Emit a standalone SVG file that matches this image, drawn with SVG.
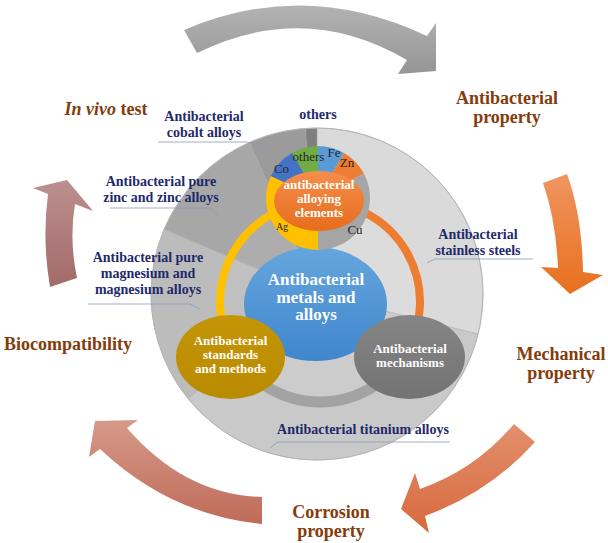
<svg xmlns="http://www.w3.org/2000/svg" width="608" height="543" viewBox="0 0 608 543">
<defs>
<linearGradient id="gGray" x1="0" y1="0" x2="0" y2="1"><stop offset="0" stop-color="#b3b3b3"/><stop offset="1" stop-color="#959595"/></linearGradient>
<linearGradient id="gOr1" x1="0" y1="0" x2="0" y2="1"><stop offset="0" stop-color="#f09560"/><stop offset="1" stop-color="#e8701e"/></linearGradient>
<linearGradient id="gOr2" x1="0" y1="0" x2="0" y2="1"><stop offset="0" stop-color="#e2906c"/><stop offset="1" stop-color="#d8693d"/></linearGradient>
<linearGradient id="gSal" x1="0" y1="0" x2="0" y2="1"><stop offset="0" stop-color="#d69a8a"/><stop offset="1" stop-color="#bf6b58"/></linearGradient>
<linearGradient id="gRose" x1="0" y1="0" x2="0" y2="1"><stop offset="0" stop-color="#bc9090"/><stop offset="1" stop-color="#a36a68"/></linearGradient>
<linearGradient id="gBlue" x1="0" y1="0" x2="0" y2="1"><stop offset="0" stop-color="#66a6de"/><stop offset="1" stop-color="#3f86cc"/></linearGradient>
<linearGradient id="gOrange" x1="0" y1="0" x2="0" y2="1"><stop offset="0" stop-color="#f58e4c"/><stop offset="1" stop-color="#e66d1c"/></linearGradient>
<linearGradient id="gGold" x1="0" y1="0" x2="0" y2="1"><stop offset="0" stop-color="#c59508"/><stop offset="1" stop-color="#b98b00"/></linearGradient>
<linearGradient id="gMech" x1="0" y1="0" x2="0" y2="1"><stop offset="0" stop-color="#858585"/><stop offset="1" stop-color="#737373"/></linearGradient>
<style>
.cyc{font-family:"Liberation Serif",serif;font-weight:bold;font-size:18px;fill:#843c0c;text-anchor:middle}
.lab{font-family:"Liberation Serif",serif;font-weight:bold;font-size:14px;fill:#1f2a6b;text-anchor:middle}
.wt{font-family:"Liberation Serif",serif;font-weight:bold;font-size:13px;fill:#ffffff;text-anchor:middle}
.big{font-size:17px}
.el{font-family:"Liberation Serif",serif;font-size:13px;fill:#262626;text-anchor:middle}
.sm{font-size:10px}
.lead{fill:none;stroke:#8a9bb8;stroke-width:0.8}
.w{stroke:#a8a8a8;stroke-width:0.5}
</style>
</defs>
<rect width="608" height="543" fill="#ffffff"/>

<g id="cycle-arrows">
<path d="M184,30 Q305,-22 427,36 L436,23 L436,71 L398,74 L407,60 Q305,0 197,53 Z" fill="url(#gGray)"/>
<path d="M543,183 L567,174 Q582,215 583,272 L603,275 L570,294 L541,267 L558,268 Q556,220 543,183 Z" fill="url(#gOr1)"/>
<path d="M514,424 L535,442 Q490,492 425,516 L429,533 L401,509 L415,473 L420,489 Q475,470 514,424 Z" fill="url(#gOr2)"/>
<path d="M262,497 L262,524 Q170,515 100,449 L89,457 L95,421 L138,420 L127,428 Q185,495 262,497 Z" fill="url(#gSal)"/>
<path d="M50,287 L77,278 Q69,240 75,204 L93,211 L67,180 L33,188 L48,194 Q42,240 50,287 Z" fill="url(#gRose)"/>
</g>

<g id="cycle-labels">
<text class="cyc" x="507" y="104">Antibacterial</text>
<text class="cyc" x="507" y="123">property</text>
<text class="cyc" x="561" y="360">Mechanical</text>
<text class="cyc" x="561" y="379">property</text>
<text class="cyc" x="331" y="518">Corrosion</text>
<text class="cyc" x="331" y="537">property</text>
<text class="cyc" x="68" y="350">Biocompatibility</text>
<text class="cyc" x="106" y="115"><tspan font-style="italic">In vivo</tspan> test</text>
</g>

<g id="alloy-pie">
<path class="w" d="M317,294 L317,128 A166,166 0 0 1 478.1,334.2 Z" fill="#dadada"/>
<path class="w" d="M317,294 L478.1,334.2 A166,166 0 0 1 188,398.5 Z" fill="#c9c9c9"/>
<path class="w" d="M317,294 L188,398.5 A166,166 0 0 1 164.2,229.1 Z" fill="#bcbcbc"/>
<path class="w" d="M317,294 L164.2,229.1 A166,166 0 0 1 249.5,142.4 Z" fill="#a7a7a7"/>
<path class="w" d="M317,294 L249.5,142.4 A166,166 0 0 1 305.4,128.4 Z" fill="#9b9b9b"/>
<path class="w" d="M317,294 L305.4,128.4 A166,166 0 0 1 317,128 Z" fill="#7f7f7f"/>
<circle cx="317" cy="294" r="166" fill="none" stroke="#b5b5b5" stroke-width="1"/>
<circle cx="320" cy="302" r="100" fill="#ffffff" fill-opacity="0.07"/>
</g>

<g id="pie-labels">
<text class="lab" x="318" y="119">others</text>
<text class="lab" x="204" y="121">Antibacterial</text>
<text class="lab" x="204" y="137">cobalt alloys</text>
<text class="lab" x="161" y="186">Antibacterial pure</text>
<text class="lab" x="161" y="202">zinc and zinc alloys</text>
<text class="lab" x="148" y="262">Antibacterial pure</text>
<text class="lab" x="148" y="278">magnesium and</text>
<text class="lab" x="148" y="294">magnesium alloys</text>
<text class="lab" x="478" y="239">Antibacterial</text>
<text class="lab" x="478" y="255">stainless steels</text>
<text class="lab" x="363" y="434">Antibacterial titanium alloys</text>
</g>

<g id="connectors">
<path class="lead" d="M158,142 L247,142 L268,148"/>
<path class="lead" d="M110,208 L210,208 L218,215"/>
<path class="lead" d="M88,304 L190,304 L200,309"/>
<path class="lead" d="M427,263 L435,259 L533,259"/>
<path class="lead" d="M270,448 L278,442 L450,442"/>
</g>

<g id="ring">
<path d="M233.4,352 A100,100 0 0 1 320,202" fill="none" stroke="#ffc000" stroke-width="8"/>
<path d="M320,202 A100,100 0 0 1 406.6,352" fill="none" stroke="#ed7d31" stroke-width="8"/>
<path d="M406.6,352 A100,100 0 0 1 233.4,352" fill="none" stroke="#a3a3a3" stroke-width="11"/>
</g>

<g id="node-metals">
<ellipse cx="315.5" cy="304" rx="71.5" ry="57" fill="url(#gBlue)"/>
<text class="wt big" x="316" y="285">Antibacterial</text>
<text class="wt big" x="316" y="302.5">metals and</text>
<text class="wt big" x="316" y="320">alloys</text>
</g>

<g id="node-elements">
<path d="M318,198 L292,153 A52,52 0 0 1 318,146 Z" fill="#70ad47"/>
<path d="M318,198 L318,146 A52,52 0 0 1 344,153 Z" fill="#5b9bd5"/>
<path d="M318,198 L344,153 A52,52 0 0 1 363.9,173.6 Z" fill="#ed7d31"/>
<path d="M318,198 L363.9,173.6 A52,52 0 0 1 318,250 Z" fill="#a5a5a5"/>
<path d="M318,198 L318,250 A52,52 0 0 1 270.9,176 Z" fill="#ffc000"/>
<path d="M318,198 L270.9,176 A52,52 0 0 1 292,153 Z" fill="#4472c4"/>
<ellipse cx="319" cy="201" rx="45" ry="30" fill="url(#gOrange)"/>
<text class="el" x="308.5" y="161">others</text>
<text class="el" x="334" y="157">Fe</text>
<text class="el" x="347" y="167">Zn</text>
<text class="el" x="281.5" y="173">Co</text>
<text class="el sm" x="282" y="230">Ag</text>
<text class="el" x="355" y="234">Cu</text>
<text class="wt" x="319" y="189">antibacterial</text>
<text class="wt" x="319" y="203">alloying</text>
<text class="wt" x="319" y="217">elements</text>
</g>

<g id="node-standards">
<ellipse cx="230.5" cy="357" rx="54.5" ry="42" fill="url(#gGold)"/>
<text class="wt" x="230.5" y="345">Antibacterial</text>
<text class="wt" x="230.5" y="359">standards</text>
<text class="wt" x="230.5" y="373">and methods</text>
</g>

<g id="node-mechanisms">
<ellipse cx="409.5" cy="357" rx="55.5" ry="42" fill="url(#gMech)"/>
<text class="wt" x="410" y="353">Antibacterial</text>
<text class="wt" x="410" y="367">mechanisms</text>
</g>
</svg>
